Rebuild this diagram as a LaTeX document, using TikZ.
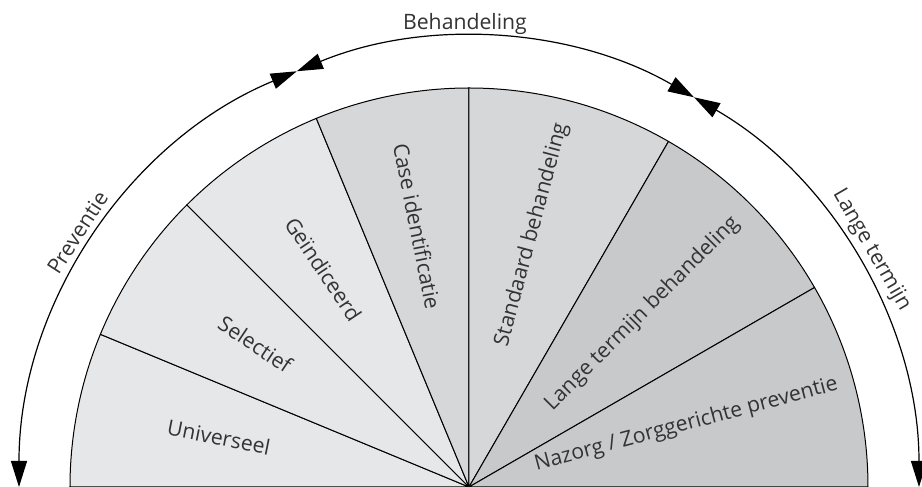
\documentclass[tikz,border=0pt]{standalone}
\usepackage{fontspec}
\setmainfont{Open Sans}
\usetikzlibrary{arrows.meta}
\definecolor{prevgrey}{HTML}{E6E7E8}
\definecolor{behgrey}{HTML}{D6D7D9}
\definecolor{langgrey}{HTML}{C8C9CB}

\begin{document}
\begin{tikzpicture}[x=0.5pt,y=0.5pt,
	sector/.style={draw=black, line width=0.5pt},
	seclabel/.style={inner sep=0pt, text=black!80, font=\fontsize{10.6}{12}\selectfont},
	phase/.style={line width=0.6pt, {Triangle[length=13pt,width=8pt]}-{Triangle[length=13pt,width=8pt]}}]
		\useasboundingbox (-469,0) rectangle (453,487);

		% sectors
		\filldraw[sector,fill=prevgrey] (0,0) -- (180:399) arc[start angle=180,end angle=157.5,radius=399] -- cycle;
		\filldraw[sector,fill=prevgrey] (0,0) -- (157.5:399) arc[start angle=157.5,end angle=135,radius=399] -- cycle;
		\filldraw[sector,fill=prevgrey] (0,0) -- (135:399) arc[start angle=135,end angle=112.5,radius=399] -- cycle;
		\filldraw[sector,fill=behgrey] (0,0) -- (112.5:399) arc[start angle=112.5,end angle=90,radius=399] -- cycle;
		\filldraw[sector,fill=behgrey] (0,0) -- (90:399) arc[start angle=90,end angle=60,radius=399] -- cycle;
		\filldraw[sector,fill=langgrey] (0,0) -- (60:399) arc[start angle=60,end angle=30,radius=399] -- cycle;
		\filldraw[sector,fill=langgrey] (0,0) -- (30:399) arc[start angle=30,end angle=0,radius=399] -- cycle;

		\node[seclabel,rotate=-11.25] (univ) at (168.75:255) {Universeel};
		\node[seclabel,rotate=-33.75] (sel) at (146.25:257) {Selectief};
		\node[seclabel,rotate=-56.25] (geind) at (123.75:262) {Geïndiceerd};
		\node[seclabel,rotate=-78.75] (caseid) at (101.25:266) {Case identificatie};
		\node[seclabel,rotate=75] (standaard) at (76:260) {Standaard behandeling};
		\node[seclabel,rotate=45] (langbeh) at (45:245) {Lange termijn behandeling};
		\node[seclabel,rotate=15] (nazorg) at (16:226) {Nazorg / Zorggerichte preventie};

		% phases
		\coordinate (prevstart) at (180:450);
		\coordinate (prevend) at (112.5:450);
		\coordinate (behend) at (60:450);
		\coordinate (langend) at (0:450);
		\draw[phase] (prevstart) arc[start angle=180,end angle=112.5,radius=450];
		\draw[phase] (prevend) arc[start angle=112.5,end angle=60,radius=450];
		\draw[phase] (behend) arc[start angle=60,end angle=0,radius=450];

		\node[seclabel,rotate=57] (prevlabel) at (147:467) {Preventie};
		\node[seclabel] (behlabel) at (90.5:463) {Behandeling};
		\node[seclabel,rotate=-60] (langlabel) at (30.5:467) {Lange termijn};

	\end{tikzpicture}
\end{document}
